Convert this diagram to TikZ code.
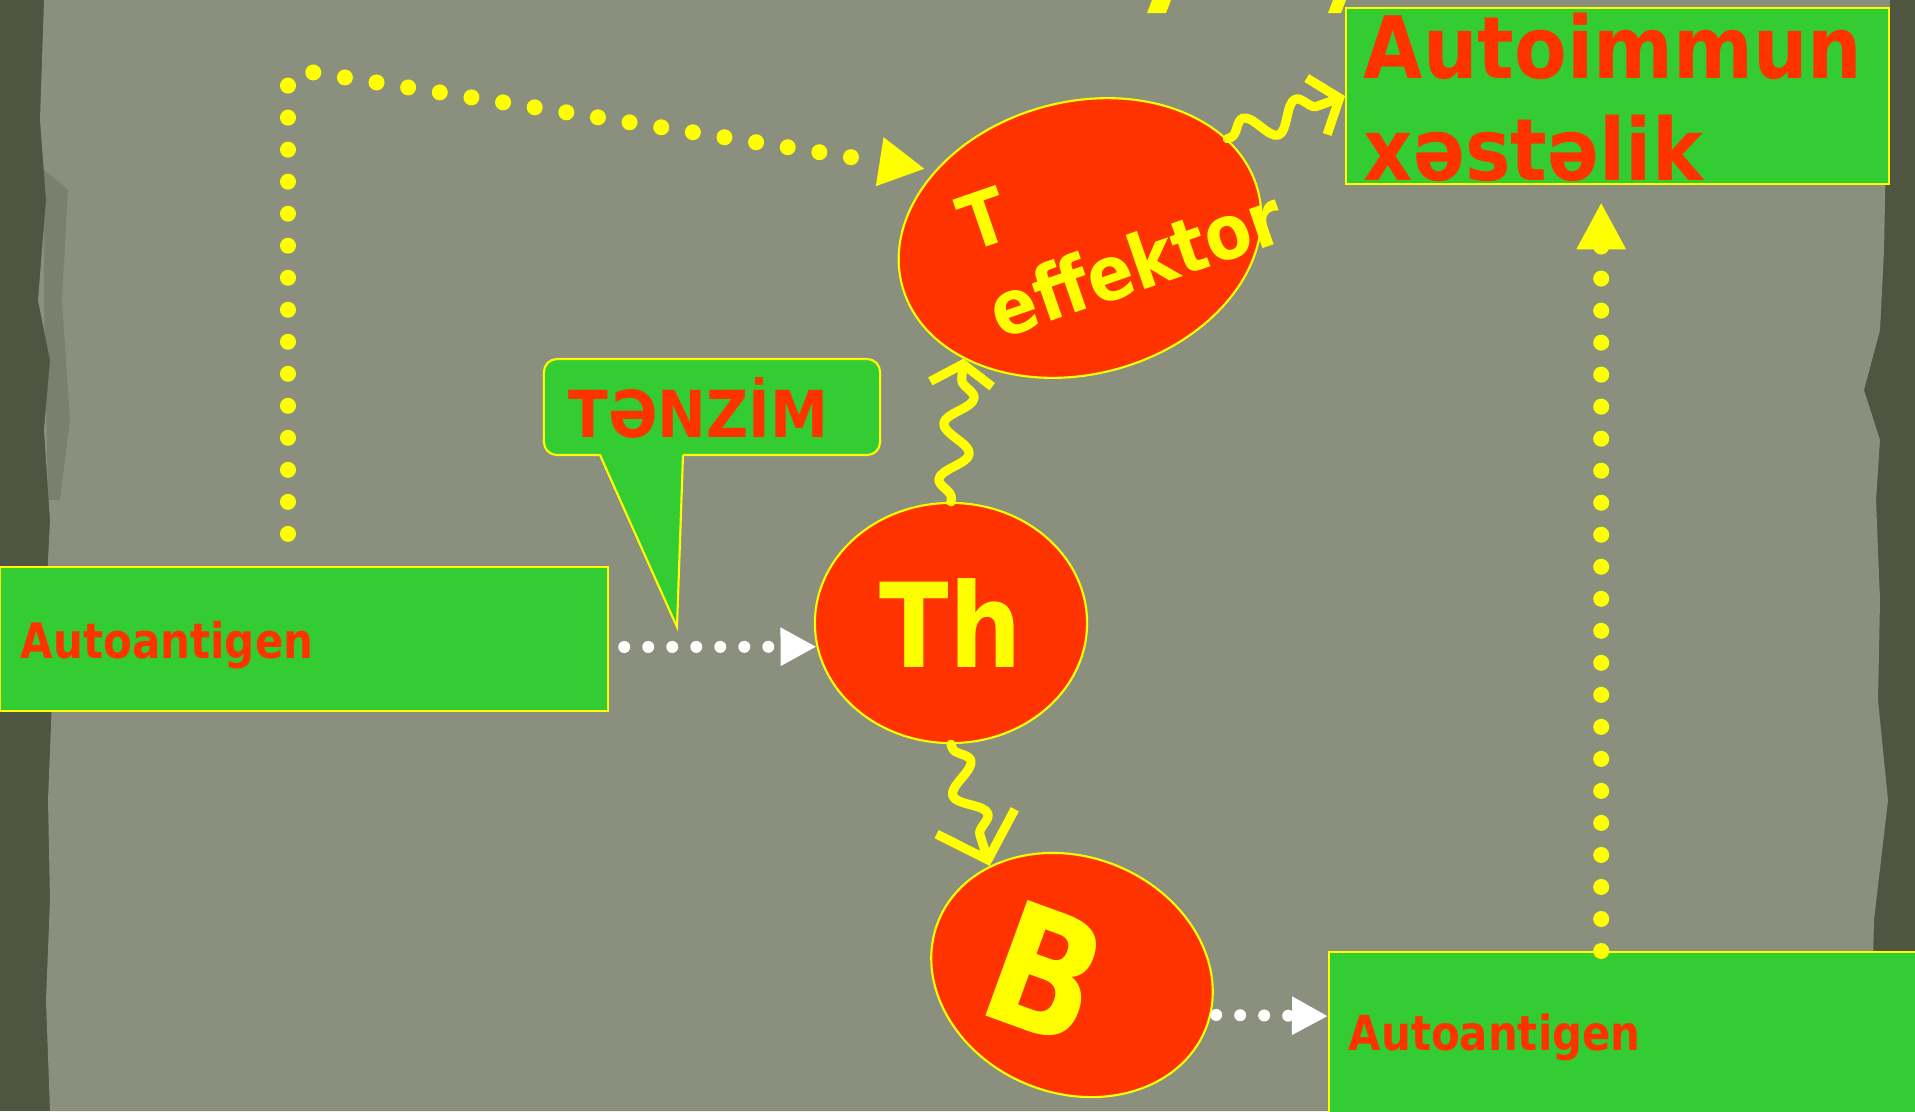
\documentclass[tikz,border=0pt]{standalone}
\usepackage{fontspec}
\usepackage{graphicx}
\setmainfont{DejaVu Sans}
\usetikzlibrary{arrows.meta, decorations.pathmorphing, shapes.geometric}

\definecolor{paper}{RGB}{138,143,126}
\definecolor{edge}{RGB}{78,86,66}
\definecolor{leaf}{RGB}{51,204,51}
\definecolor{flame}{RGB}{255,51,0}
\definecolor{sun}{RGB}{255,255,0}

\newcommand{\txt}[3]{\fontsize{#1}{#1}\selectfont\scalebox{#2}[1]{#3}}

\begin{document}
\begin{tikzpicture}[x=0.01cm, y=-0.01cm,
  gbox/.style={rectangle, fill=leaf, draw=sun, line width=0.6pt, inner sep=0pt},
  cell/.style={ellipse, fill=flame, draw=sun, line width=0.6pt, inner sep=0pt},
  redtxt/.style={text=flame, font=\bfseries, inner sep=0pt},
  yeltxt/.style={text=sun, font=\bfseries, inner sep=0pt},
  wavy/.style={draw=sun, line width=2.6pt, line cap=round, line join=round,
    decorate, decoration={snake, amplitude=0.14cm, segment length=0.56cm,
    pre length=0.04cm, post length=0.12cm}},
  ydots/.style={draw=sun, line width=0.16cm, line cap=round, dash pattern=on 0pt off 0.32cm},
  wdots/.style={draw=white, line width=0.12cm, line cap=round, dash pattern=on 0pt off 0.24cm},
]
\useasboundingbox (0,0) rectangle (1915,1111);
\clip (0,0) rectangle (1915,1111);

% worn paper background with darker torn edges
\fill[edge] (0,0) rectangle (1915,1111);
\fill[paper] (44,0) -- (40,120) -- (46,200) -- (38,300) -- (50,360) -- (44,430)
  -- (50,520) -- (46,600) -- (52,700) -- (48,800) -- (50,900) -- (46,1000) -- (50,1111)
  -- (1880,1111) -- (1872,1000) -- (1874,920) -- (1888,800) -- (1878,700) -- (1880,600)
  -- (1876,500) -- (1880,440) -- (1864,390) -- (1880,330) -- (1884,250) -- (1886,150)
  -- (1890,0) -- cycle;
\fill[edge, opacity=0.25] (44,170) -- (68,190) -- (62,300) -- (70,420) -- (60,500)
  -- (48,500) -- (44,300) -- cycle;

% strokes entering from above
\fill[sun] (1152,0) -- (1171,0) -- (1166,13) -- (1147,13) -- cycle;
\fill[sun] (1333,0) -- (1346,0) -- (1341,13) -- (1328,13) -- cycle;

% boxes
\node[gbox, minimum width=6.08cm, minimum height=1.44cm] (lbox) at (304,639) {};
\node[gbox, minimum width=6.1cm, minimum height=1.8cm, anchor=north west] (rbox) at (1328,951) {};
\node[gbox, minimum width=5.43cm, minimum height=1.76cm, anchor=north west] (abox) at (1345,7) {};

% callout
\node[gbox, rounded corners=0.13cm, minimum width=3.36cm, minimum height=0.96cm] (tanzim) at (712,407) {};
\fill[leaf] (600,452) -- (677,627) -- (683,452) -- cycle;
\draw[sun, line width=0.6pt] (600,455) -- (677,627) -- (683,455);

% cells
\node[cell, minimum width=2.72cm, minimum height=2.40cm] (th) at (951,623)
  {\color{sun}\bfseries\txt{33.3pt}{0.87}{Th}};
\node[cell, minimum width=3.68cm, minimum height=2.72cm, rotate=15] (te) at (1080,238) {};
\node[cell, minimum width=2.88cm, minimum height=2.36cm, rotate=-22] (b) at (1072,975) {};

% texts
\node[redtxt, anchor=base west] (ltxt) at (20,658) {\txt{13.9pt}{0.86}{Autoantigen}};
\node[redtxt, anchor=base west] (rtxt) at (1348,1050) {\txt{13.7pt}{0.87}{Autoantigen}};
\node[redtxt, anchor=base west] (tztxt) at (568,437) {\txt{18.4pt}{0.9}{TƏNZİM}};
\node[redtxt, anchor=base west] (atxt1) at (1363,78) {\txt{24.5pt}{0.89}{Autoimmun}};
\node[redtxt, anchor=base west] (atxt2) at (1363,180) {\txt{24.5pt}{0.89}{xəstəlik}};
\node[yeltxt, align=left, anchor=north west, rotate=19, font=\bfseries\fontsize{21.5pt}{26pt}\selectfont]
  (tetxt) at (952,200) {\scalebox{0.9}[1]{T}\\\scalebox{0.9}[1]{effektor}};
\node[yeltxt, rotate=-20] (btxt) at (1046,972) {\txt{48pt}{0.85}{B}};

% signalling connectors
\draw[wavy, -{Straight Barb[length=0.2cm, width=0.62cm]}] (th.north) -- (te.211);
\draw[wavy, -{Straight Barb[length=0.4cm, width=0.82cm]}] (th.south) -- (b.149);
\draw[wavy, -{Straight Barb[length=0.24cm, width=0.6cm]}] (te.19) -- (abox.west);

% dotted yellow paths
\draw[ydots, shorten >=0.1cm, -{Triangle[length=0.46cm, width=0.46cm]}]
  ([xshift=-0.16cm, yshift=0.32cm]lbox.north) -- (288,83) -- (304,71) -- (te.140);
\draw[ydots, -{Triangle[length=0.47cm, width=0.46cm]}]
  ([xshift=-0.33cm]rbox.north) -- ([xshift=-0.165cm, yshift=-0.17cm]abox.south);

% dotted white paths
\draw[wdots, -{Triangle[length=0.36cm, width=0.36cm]}]
  ([xshift=0.15cm, yshift=-0.08cm]lbox.east) -- (th.190);
\draw[wdots, shorten <=0.05cm, -{Triangle[length=0.36cm, width=0.36cm]}]
  (b.6) -- ([yshift=0.26cm]rbox.west);
\end{tikzpicture}
\end{document}
